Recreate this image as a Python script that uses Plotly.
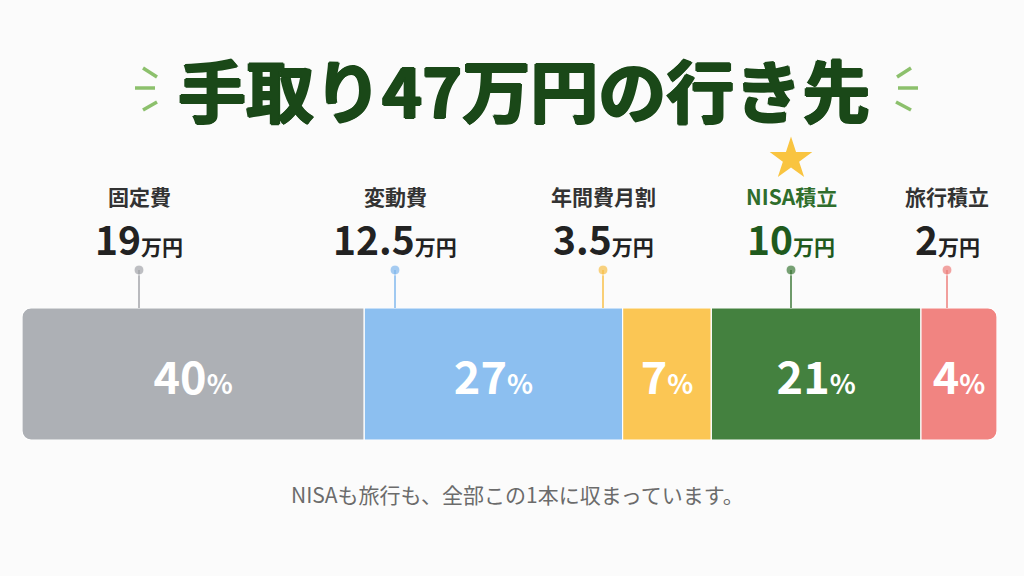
import plotly.graph_objects as go

# ---- data ----
categories = ["固定費", "変動費", "年間費月割", "NISA積立", "旅行積立"]
amounts_man = ["19", "12.5", "3.5", "10", "2"]          # 万円
percents = [40, 27, 7, 21, 4]                             # %
bar_lengths = [35.1, 26.5, 9.1, 21.5, 7.8]                # drawn segment lengths
title_text = "手取り47万円の行き先"
footnote = "NISAも旅行も、全部この1本に収まっています。"

# ---- styles / layout constants ----
colors = ["#adb0b5", "#8cbff0", "#fbc654", "#44813f", "#f18481"]
pin_colors = ["#a3a5aa", "#82b8ee", "#f8c04a", "#3f7a3a", "#ee7f7c"]
label_colors = ["#333333", "#333333", "#333333", "#2f6e2c", "#333333"]
amount_colors = ["#222222", "#222222", "#222222", "#1f5a1d", "#222222"]
W, H = 1024, 576
BAR_L, BAR_R, BAR_T, BAR_B = 22, 997, 308, 440
label_px = [139, 395, 603, 791, 947]
FONT = "Noto Sans CJK JP"

total = sum(bar_lengths)
scale = (BAR_R - BAR_L) / total
# first segment stacks to the left of zero (negative side) so both outer ends get rounded
x_min = -bar_lengths[0]
x_max = total - bar_lengths[0]
label_x = [x_min + (p - BAR_L) / scale for p in label_px]

def py(y):  # pixel y -> paper y
    return 1 - y / H

fig = go.Figure()

for i, cat in enumerate(categories):
    txt = f"<b>{percents[i]}</b><span style='font-size:27px'><b>%</b></span>"
    val = -bar_lengths[i] if i == 0 else bar_lengths[i]
    fig.add_trace(go.Bar(
        y=[0], x=[val], orientation="h", width=1,
        marker=dict(color=colors[i], line=dict(color="#ffffff", width=1.2)),
        text=[txt], textposition="inside", insidetextanchor="middle",
        textangle=0, constraintext="none",
        textfont=dict(family=FONT, size=45, color="#ffffff"),
        hoverinfo="skip", showlegend=False, name=cat,
    ))

# pins (dot + stem) on overlay y-axis in pixel units
for i in range(len(categories)):
    fig.add_trace(go.Scatter(
        x=[label_x[i], label_x[i]], y=[270, BAR_T], xaxis="x", yaxis="y2",
        mode="lines+markers",
        line=dict(color=pin_colors[i], width=1.5),
        marker=dict(size=[10, 0], color=pin_colors[i]),
        hoverinfo="skip", showlegend=False,
    ))

# star above NISA
fig.add_trace(go.Scatter(
    x=[label_x[3]], y=[159], xaxis="x", yaxis="y2", mode="markers",
    marker=dict(symbol="star", size=32, color="#f9c440", line=dict(width=0)),
    hoverinfo="skip", showlegend=False,
))

annotations = []
for i, cat in enumerate(categories):
    annotations.append(dict(
        x=label_x[i], y=py(196), xref="x", yref="paper",
        text=f"<b>{cat}</b>", showarrow=False, xanchor="center", yanchor="middle",
        font=dict(family=FONT, size=21, color=label_colors[i]),
    ))
    annotations.append(dict(
        x=label_x[i], y=py(238), xref="x", yref="paper",
        text=f"<b>{amounts_man[i]}</b><span style='font-size:21px'><b>万円</b></span>",
        showarrow=False, xanchor="center", yanchor="middle",
        font=dict(family=FONT, size=39, color=amount_colors[i]),
    ))

tc = "#1a4818"
annotations.append(dict(
    x=524 / W, y=py(89), xref="paper", yref="paper", text=f"<b>{title_text}</b>",
    showarrow=False, xanchor="center", yanchor="middle",
    font=dict(family=FONT, size=68, color=tc, weight=900,
              shadow=f"1.2px 0 0 {tc}, -1.2px 0 0 {tc}, 0 1.2px 0 {tc}, 0 -1.2px 0 {tc}"),
))
annotations.append(dict(
    x=517 / W, y=py(494), xref="paper", yref="paper", text=footnote,
    showarrow=False, xanchor="center", yanchor="middle",
    font=dict(family=FONT, size=21, color="#6b6b6b"),
))

# title decorations
deco = [
    ((143, 68), (157, 77)), ((135, 88), (155, 88)), ((143, 110), (157, 102)),
    ((897, 77), (911, 68)), ((898, 88), (918, 88)), ((896, 102), (911, 110)),
]
shapes = []
for (x0, y0), (x1, y1) in deco:
    shapes.append(dict(type="line", xref="paper", yref="paper",
                       x0=x0 / W, y0=py(y0), x1=x1 / W, y1=py(y1),
                       line=dict(color="#8cc06c", width=3.5)))

fig.update_layout(
    width=W, height=H, margin=dict(l=0, r=0, t=0, b=0),
    paper_bgcolor="#fbfbfb", plot_bgcolor="rgba(0,0,0,0)",
    barmode="relative", barcornerradius=9,
    xaxis=dict(domain=[BAR_L / W, BAR_R / W], range=[x_min, x_max], visible=False, fixedrange=True),
    yaxis=dict(domain=[py(BAR_B), py(BAR_T)], range=[-0.5, 0.5], visible=False, fixedrange=True),
    yaxis2=dict(domain=[0, 1], range=[H, 0], anchor="x", visible=False, fixedrange=True),
    annotations=annotations, shapes=shapes,
    font=dict(family=FONT),
)

fig.write_html("out.html", config={"displayModeBar": False})
